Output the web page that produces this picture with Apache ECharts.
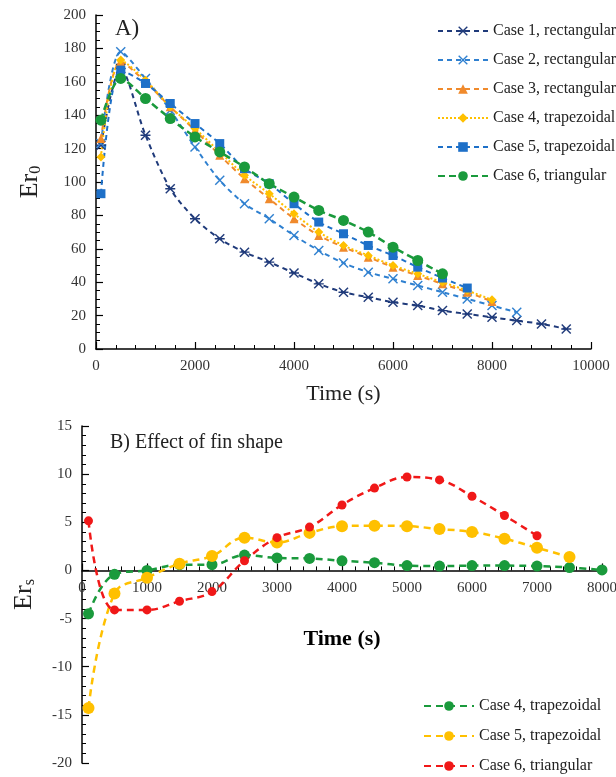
<!DOCTYPE html>
<html lang="en">
<head>
    <meta charset="UTF-8">
    <title>Er vs time</title>
    <script src="https://cdn.jsdelivr.net/npm/echarts@6/dist/echarts.min.js"></script>
    <style>
        body{
            margin:0;
            background:#fff;
        }
        #main{
            width:616px;
            height:777px;
        }
    </style>
</head>
<body>
<div id="main"></div>
<script>
    // chart A: Er0 against time
    var timesA = [100, 500, 1000, 1500, 2000, 2500, 3000, 3500, 4000, 4500, 5000, 5500, 6000, 6500, 7000, 7500, 8000, 8500, 9000, 9500];
    var case1 = [122, 168, 128, 96, 78, 66, 58, 52, 45.5, 39, 34, 31, 28, 26, 23, 21, 19, 17, 15, 12];
    var case2 = [123, 178, 162, 143, 121, 101, 87, 78, 68, 59, 51.5, 46, 42, 38, 34, 30, 26, 22];
    var case3 = [126, 172, 160, 145, 131, 116, 102, 90, 78, 68, 61, 55, 49, 44, 39, 34, 28.5];
    var case4 = [115, 173, 161, 145, 132, 118, 104, 93, 81, 70, 62, 56, 50, 45, 40, 35, 29.5];
    var case5 = [93, 167, 159, 147, 135, 123, 108, 99, 87, 76, 69, 62, 56, 49, 42.5, 36.5];
    var case6 = [137, 162, 150, 138, 127, 118, 109, 99, 91, 83, 77, 70, 61, 53, 45];

    // chart B: Ers against time
    var timesB = [100, 500, 1000, 1500, 2000, 2500, 3000, 3500, 4000, 4500, 5000, 5500, 6000, 6500, 7000, 7500, 8000];
    var ers4 = [-4.5, -0.4, 0.0, 0.6, 0.6, 1.6, 1.3, 1.25, 1.0, 0.8, 0.5, 0.45, 0.5, 0.5, 0.45, 0.3, 0.05];
    var ers5 = [-14.3, -2.4, -0.75, 0.7, 1.5, 3.4, 2.9, 3.9, 4.6, 4.65, 4.6, 4.3, 4.0, 3.3, 2.35, 1.4];
    var ers6 = [5.15, -4.1, -4.1, -3.2, -2.2, 1.0, 3.4, 4.5, 6.8, 8.55, 9.7, 9.4, 7.7, 5.7, 3.6];

    var namesA = ['Case 1, rectangular', 'Case 2, rectangular', 'Case 3, rectangular', 'Case 4, trapezoidal', 'Case 5, trapezoidal', 'Case 6, triangular'];
    var namesB = ['Case 4, trapezoidal ', 'Case 5, trapezoidal ', 'Case 6, triangular '];

    var serif = 'Liberation Serif';
    var xMark = 'path://M1,0 L5,4 L9,0 L10,1 L6,5 L10,9 L9,10 L5,6 L1,10 L0,9 L4,5 L0,1 Z';
    var starMark = 'path://M1,0 L5,4 L9,0 L10,1 L6,5 L10,9 L9,10 L5,6 L1,10 L0,9 L4,5 L0,1 Z M0,4.3 L10,4.3 L10,5.7 L0,5.7 Z';

    // bottom grid size, the x axis is moved up to the zero line
    var gridB = {left:82, top:426, width:520, height:337};
    var yMinB = -20, yMaxB = 15;
    var zeroOffset = -gridB.height * (0 - yMinB) / (yMaxB - yMinB);

    function pairs(t, v){
        var out = [];
        for(var i=0;i<v.length;i++){
            out.push([t[i], v[i]]);
        }
        return out;
    }

    function lineA(name, data, color, symbol, size, type, width){
        return {
            name:name,
            type:'line',
            xAxisIndex:0,
            yAxisIndex:0,
            smooth:0.3,
            symbol:symbol,
            symbolSize:size,
            data:pairs(timesA, data),
            itemStyle:{color:color},
            lineStyle:{color:color, width:width, type:type}
        };
    }

    function lineB(name, data, color, size){
        return {
            name:name,
            type:'line',
            xAxisIndex:1,
            yAxisIndex:1,
            smooth:0.4,
            symbol:'circle',
            symbolSize:size,
            data:pairs(timesB, data),
            itemStyle:{color:color},
            lineStyle:{color:color, width:2.5, type:[7, 5]}
        };
    }

    // one legend per row below, so the last row does not wrap off screen
    function legendB(name, top){
        return {
            data:[name],
            orient:'vertical',
            left:418,
            top:top,
            itemWidth:50,
            itemHeight:12,
            textStyle:{fontFamily:serif, fontSize:16, color:'#222'}
        };
    }

    var axisBase = {
        axisLine:{show:true, onZero:false, lineStyle:{color:'#000', width:1.5}},
        axisTick:{inside:true, length:7, lineStyle:{color:'#000', width:1.2}},
        minorTick:{show:true, splitNumber:5, length:4, lineStyle:{color:'#000'}},
        splitLine:{show:false},
        axisLabel:{color:'#333', fontFamily:serif, fontSize:15, margin:10, formatter:function(v){ return String(v); }}
    };

    var option = {
        animation:false,
        title:[
            {text:'A)', left:110, top:12, textStyle:{fontFamily:serif, fontSize:23, fontWeight:'normal', color:'#222'}},
            {text:'B) Effect of fin shape', left:105, top:428, textStyle:{fontFamily:serif, fontSize:20, fontWeight:'normal', color:'#222'}}
        ],
        legend:[
            {
                data:namesA,
                orient:'vertical',
                left:432,
                top:18,
                itemWidth:50,
                itemHeight:12,
                itemGap:13,
                textStyle:{fontFamily:serif, fontSize:16, color:'#222'}
            },
            legendB(namesB[0], 693),
            legendB(namesB[1], 723),
            legendB(namesB[2], 753)
        ],
        grid:[
            {left:96, top:15, width:495, height:334, outerBoundsMode:'none'},
            {left:gridB.left, top:gridB.top, width:gridB.width, height:gridB.height, outerBoundsMode:'none'}
        ],
        xAxis:[
            Object.assign({}, axisBase, {
                gridIndex:0, type:'value', min:0, max:10000, interval:2000,
                name:'Time (s)', nameLocation:'middle', nameGap:34,
                nameTextStyle:{fontFamily:serif, fontSize:22, color:'#222'}
            }),
            Object.assign({}, axisBase, {
                gridIndex:1, type:'value', min:0, max:8000, interval:1000,
                offset:zeroOffset,
                name:'Time (s)', nameLocation:'middle', nameGap:58,
                nameTextStyle:{fontFamily:serif, fontSize:22, fontWeight:'bold', color:'#000'}
            })
        ],
        yAxis:[
            Object.assign({}, axisBase, {
                gridIndex:0, type:'value', min:0, max:200, interval:20,
                minorTick:{show:true, splitNumber:4, length:4, lineStyle:{color:'#000'}},
                name:'{a|Er}{b|0}', nameLocation:'middle', nameGap:52,
                nameTextStyle:{
                    rich:{
                        a:{fontFamily:serif, fontSize:26, color:'#222'},
                        b:{fontFamily:serif, fontSize:16, color:'#222', padding:[12, 0, 0, 0]}
                    }
                }
            }),
            Object.assign({}, axisBase, {
                gridIndex:1, type:'value', min:yMinB, max:yMaxB, interval:5,
                name:'{a|Er}{b|s}', nameLocation:'middle', nameGap:44,
                nameTextStyle:{
                    rich:{
                        a:{fontFamily:serif, fontSize:26, color:'#222'},
                        b:{fontFamily:serif, fontSize:16, color:'#222', padding:[12, 0, 0, 0]}
                    }
                }
            })
        ],
        series:[
            lineA(namesA[0], case1, '#1F3A7A', starMark, 10, [5, 4], 2),
            lineA(namesA[1], case2, '#2F80D0', xMark, 10, [5, 4], 2),
            lineA(namesA[2], case3, '#F08A2C', 'triangle', 9, [5, 4], 2),
            lineA(namesA[3], case4, '#FFC000', 'diamond', 9, [2, 2], 2),
            lineA(namesA[4], case5, '#1E70C8', 'rect', 9, [5, 4], 2),
            lineA(namesA[5], case6, '#1A9A3C', 'circle', 11, [7, 4], 2.5),
            lineB(namesB[0], ers4, '#1A9A3C', 11),
            lineB(namesB[1], ers5, '#FFC000', 12),
            lineB(namesB[2], ers6, '#F01818', 9)
        ]
    };

    var myChart = echarts.init(document.getElementById('main'));
    myChart.setOption(option);
</script>
</body>
</html>
